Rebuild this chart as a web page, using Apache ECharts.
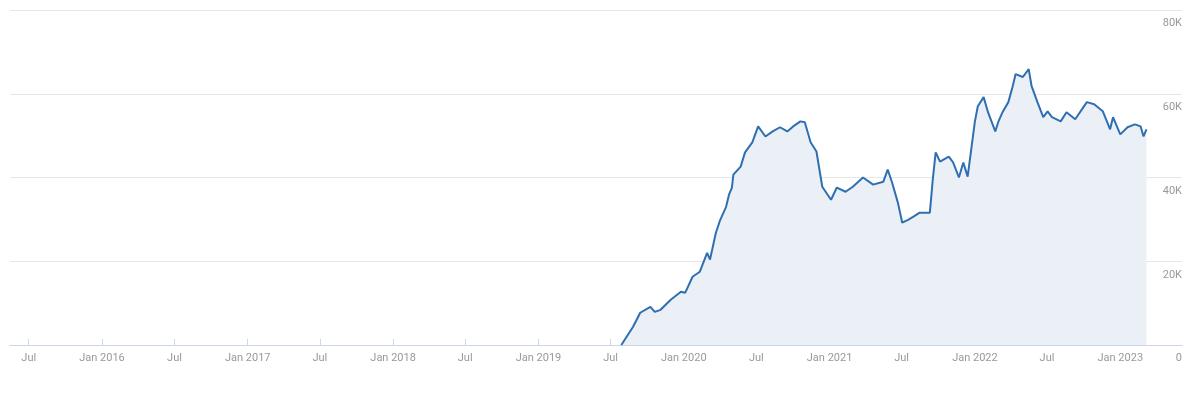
<!DOCTYPE html>
<html><head><meta charset="utf-8">
<script src="https://cdn.jsdelivr.net/npm/echarts@6/dist/echarts.min.js"></script>
<style>html,body{margin:0;padding:0;background:#fff}#c{width:1200px;height:400px}</style>
</head><body><div id="c"></div>
<script>
const years = [2019.57,2019.65,2019.70,2019.77,2019.80,2019.84,2019.91,2019.98,2020.01,2020.06,2020.11,2020.16,2020.18,2020.22,2020.25,2020.29,2020.31,2020.33,2020.34,2020.39,2020.42,2020.47,2020.51,2020.56,2020.61,2020.66,2020.71,2020.75,2020.80,2020.83,2020.87,2020.91,2020.95,2021.01,2021.05,2021.11,2021.16,2021.23,2021.30,2021.37,2021.40,2021.43,2021.47,2021.50,2021.54,2021.58,2021.62,2021.69,2021.71,2021.73,2021.76,2021.82,2021.85,2021.89,2021.92,2021.95,2022.00,2022.02,2022.06,2022.09,2022.14,2022.16,2022.19,2022.23,2022.26,2022.28,2022.33,2022.37,2022.39,2022.43,2022.47,2022.50,2022.53,2022.59,2022.63,2022.69,2022.77,2022.82,2022.88,2022.93,2022.95,2023.00,2023.05,2023.10,2023.14,2023.16,2023.18];
const values = [0,4300,7700,9100,7900,8400,10800,12700,12500,16300,17500,22000,20400,26800,29900,33000,35900,37600,40700,42600,46000,48400,52200,49800,51000,52000,51000,52200,53400,53200,48400,46200,37800,34700,37600,36600,37800,40000,38300,39000,41900,38800,34000,29200,29900,30700,31600,31600,39500,46000,43800,45000,43600,40000,43600,40200,53400,57000,59200,55600,51000,53200,55600,58000,61800,64700,64000,65900,61800,58000,54400,55800,54400,53400,55600,53900,58000,57500,55800,51500,54400,50300,52000,52700,52200,49800,51500];
const yTicks = [0,20000,40000,60000,80000];
function yToMs(y){const yr=Math.floor(y);const s=Date.UTC(yr,0,1),e=Date.UTC(yr+1,0,1);return s+(y-yr)*(e-s);}
const data = years.map((y,i)=>[yToMs(y),values[i]]);
const chart = echarts.init(document.getElementById('c'));
chart.setOption({
  animation:false,
  grid:{left:10,right:18,top:10,bottom:55},
  xAxis:{type:'time',min:Date.UTC(2015,4,15),max:Date.UTC(2023,5,5),
    minInterval:180*864e5,maxInterval:185*864e5,
    axisLine:{lineStyle:{color:'#ccd6eb'}},
    axisTick:{inside:true,length:6,lineStyle:{color:'#ccd6eb'}},
    splitLine:{show:false},
    axisLabel:{color:'#999',fontSize:11,fontFamily:'Roboto',margin:8,
      formatter:function(v){const d=new Date(v);return d.getUTCMonth()===0?'Jan '+d.getUTCFullYear():'Jul';}}},
  yAxis:{type:'value',position:'right',min:0,max:80000,interval:20000,
    axisLine:{show:false},axisTick:{show:false},
    splitLine:{lineStyle:{color:'#e6e6e6'}},
    axisLabel:{inside:true,color:'#999',fontSize:11,fontFamily:'Roboto',verticalAlign:'top',align:'right',margin:0,padding:[8,0,0,0],
      formatter:function(v){return v===0?'0':(v/1000)+'K';}}},
  series:[{type:'line',data:data,showSymbol:false,smooth:false,
    lineStyle:{color:'#2f6fb1',width:2},itemStyle:{color:'#2f6fb1'},
    areaStyle:{color:'#ebf0f7',opacity:1}}]
});
</script></body></html>
